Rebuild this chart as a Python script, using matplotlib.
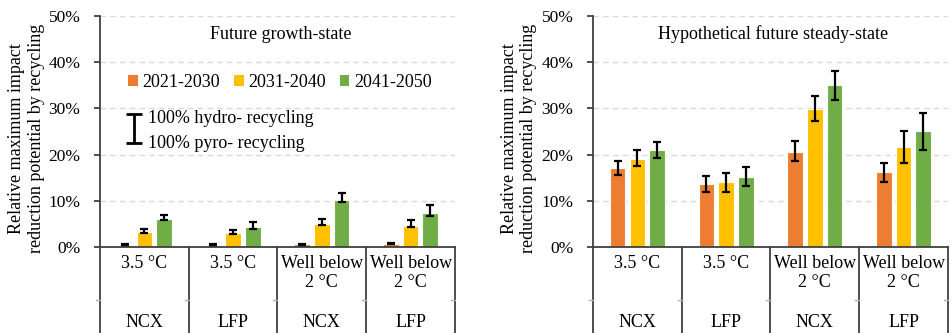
import matplotlib
matplotlib.use("Agg")
import matplotlib.pyplot as plt
from matplotlib.patches import Patch
import numpy as np

plt.rcParams['font.family'] = ['Liberation Serif', 'DejaVu Serif']
plt.rcParams['font.size'] = 13

periods = ['2021-2030', '2031-2040', '2041-2050']
colors = ['#ED7D31', '#FFC000', '#70AD47']
scenarios = ['3.5 °C', '3.5 °C', 'Well below\n2 °C', 'Well below\n2 °C']
chemistries = ['NCX', 'LFP', 'NCX', 'LFP']

# values in %, one row per period, one column per scenario/chemistry
growth = [[0.5, 0.5, 0.6, 0.7],
          [3.3, 3.0, 5.0, 4.6],
          [6.0, 4.3, 10.1, 7.3]]
growth_hydro = [[0.6, 0.7, 0.7, 0.8],
                [3.8, 3.6, 6.0, 5.8],
                [7.0, 5.5, 11.7, 9.0]]
growth_pyro = [[0.4, 0.4, 0.5, 0.6],
               [3.0, 2.8, 4.8, 4.4],
               [5.8, 4.0, 9.7, 6.6]]

steady = [[17.1, 13.6, 20.5, 16.3],
          [19.1, 14.0, 29.9, 21.6],
          [21.0, 15.2, 35.0, 25.0]]
steady_hydro = [[18.7, 15.4, 22.9, 18.2],
                [20.9, 16.0, 32.7, 25.1],
                [22.8, 17.4, 38.2, 29.1]]
steady_pyro = [[15.6, 11.9, 18.7, 14.1],
               [17.5, 12.0, 27.3, 18.2],
               [19.3, 13.1, 31.9, 21.0]]

ylabel = 'Relative maximum impact\nreduction potential by recycling'
spine_color = '#404040'


def draw_panel(ax, vals, hydro, pyro, title):
    x = np.arange(len(scenarios))
    width = 0.176
    step = 0.222
    for i in range(len(periods)):
        v = np.array(vals[i])
        lo = v - np.array(pyro[i])
        hi = np.array(hydro[i]) - v
        pos = x + (i - 1) * step
        ax.bar(pos, v, width, color=colors[i], edgecolor='white',
               linewidth=0.8, zorder=2)
        ax.errorbar(pos, v, yerr=[lo, hi], fmt='none', ecolor='black',
                    elinewidth=1.6, capsize=3.2, capthick=1.6, zorder=3)

    ax.set_xlim(-0.5, len(scenarios) - 0.5)
    ax.set_ylim(0, 50)
    ax.set_yticks(np.arange(0, 51, 10))
    ax.set_yticklabels([f'{t}%' for t in range(0, 51, 10)])
    ax.yaxis.grid(True, linestyle=(0, (4, 3)), color='#d9d9d9', linewidth=1)
    ax.set_axisbelow(True)
    ax.set_xticks([])
    for s in ['top', 'right']:
        ax.spines[s].set_visible(False)
    for s in ['left', 'bottom']:
        ax.spines[s].set_color(spine_color)
        ax.spines[s].set_linewidth(1.3)
    ax.tick_params(axis='y', length=4, width=1.3, color=spine_color, pad=10,
                   labelsize=12.5)

    # two-level category axis below the plot
    tr = ax.get_xaxis_transform()
    for b in np.arange(-0.5, len(scenarios), 1.0):
        ax.plot([b, b], [0, -0.375], transform=tr, color=spine_color,
                linewidth=1.3, clip_on=False)
        ax.plot([b - 0.045, b], [-0.229, -0.229], transform=tr,
                color='#b0b0b0', linewidth=1, clip_on=False)
    for j in range(len(scenarios)):
        ax.text(j, -0.035, scenarios[j], transform=tr, ha='center', va='top',
                linespacing=1.15)
        ax.text(j, -0.325, chemistries[j], transform=tr, ha='center',
                va='center')

    ax.text(0.508, 0.922, title, transform=ax.transAxes, ha='center',
            va='center')


fig = plt.figure(figsize=(9.53, 3.33), dpi=100)
ax1 = fig.add_axes([0.1049, 0.2583, 0.3725, 0.6937])
ax2 = fig.add_axes([0.6222, 0.2583, 0.3725, 0.6937])

draw_panel(ax1, growth, growth_hydro, growth_pyro, 'Future growth-state')
draw_panel(ax2, steady, steady_hydro, steady_pyro,
           'Hypothetical future steady-state')

fig.text(0.0278, 0.585, ylabel, rotation=90, ha='center', va='center',
         multialignment='center', linespacing=1.2)
fig.text(0.5445, 0.585, ylabel, rotation=90, ha='center', va='center',
         multialignment='center', linespacing=1.2)

# period legend
handles = [Patch(facecolor=c, edgecolor='none') for c in colors]
ax1.legend(handles, periods, loc='center', bbox_to_anchor=(0.507, 0.714),
           ncol=3, frameon=False, handlelength=0.55, handleheight=0.55,
           handletextpad=0.25, columnspacing=0.75, fontsize=13)

# error bar key
ax1.errorbar([0.0966], [0.514], yerr=[[0.062], [0.062]],
             transform=ax1.transAxes, fmt='none', ecolor='black',
             elinewidth=2, capsize=5.5, capthick=2, clip_on=False)
ax1.text(0.135, 0.558, '100% hydro- recycling', transform=ax1.transAxes,
         ha='left', va='center')
ax1.text(0.135, 0.446, '100% pyro- recycling', transform=ax1.transAxes,
         ha='left', va='center')

fig.savefig('out.png', dpi=100)
